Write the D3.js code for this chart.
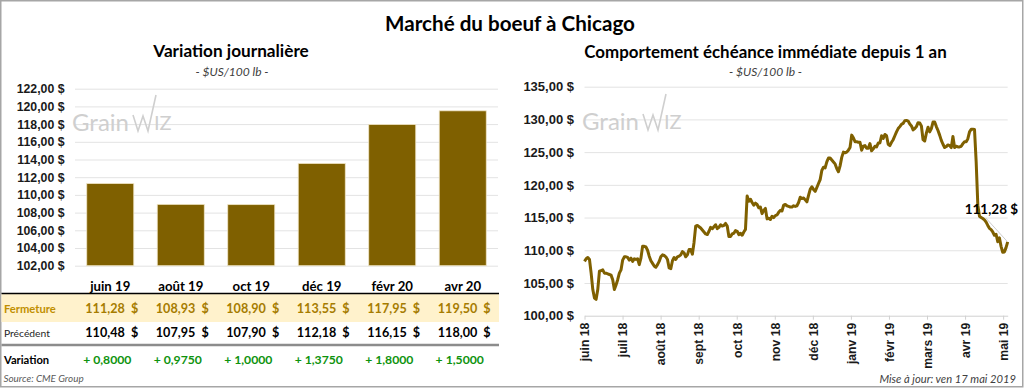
<!DOCTYPE html>
<html>
<head>
<meta charset="utf-8">
<script src="https://cdn.jsdelivr.net/npm/d3@7/dist/d3.min.js"></script>
<style>
  body { margin: 0; background: #fff; }
  svg { font-family: Lato, "Open Sans", sans-serif; display: block; }
  .pre { white-space: pre; }
</style>
</head>
<body>
<div id="chart"></div>
<script>
// left panel: futures contracts
var contracts = ["juin 19", "août 19", "oct 19", "déc 19", "févr 20", "avr 20"];
var closes = [111.28, 108.93, 108.90, 113.55, 117.95, 119.50];
var previous = [110.48, 107.95, 107.90, 112.18, 116.15, 118.00];
var changes = [0.8, 0.975, 1.0, 1.375, 1.8, 1.5];
var barTicks = [102, 104, 106, 108, 110, 112, 114, 116, 118, 120, 122];

// right panel: nearby contract over one year
var monthLabels = ["juin 18", "juil 18", "août 18", "sept 18", "oct 18", "nov 18",
                   "déc 18", "janv 19", "févr 19", "mars 19", "avr 19", "mai 19"];
var lineTicks = [100, 105, 110, 115, 120, 125, 130, 135];
var nearby = [
  108.3,108.7,108.9,108.6,106.5,104.0,102.7,102.5,104.0,106.8,
  106.9,107.0,106.5,106.5,106.4,106.3,106.2,105.5,104.0,104.7,
  105.5,106.5,107.0,108.5,109.0,109.0,108.9,108.5,108.8,108.3,
  108.7,108.6,108.7,107.8,108.8,110.6,110.6,110.5,110.0,109.1,
  108.4,108.0,107.6,107.4,107.8,108.3,109.0,109.3,109.2,109.0,
  108.6,107.3,107.2,108.4,108.9,108.6,109.0,109.1,109.3,109.8,
  109.6,109.0,109.3,
  110.1,110.1,109.4,111.2,113.7,113.8,113.6,113.4,113.1,112.8,
  112.5,112.4,112.9,113.5,113.3,113.6,113.9,113.3,113.5,113.9,
  113.7,113.8,114.1,113.7,112.1,112.1,112.5,112.6,113.0,112.9,
  112.4,112.6,112.3,112.8,113.2,118.3,117.5,117.8,117.3,116.9,
  117.2,117.0,116.5,116.6,115.6,116.1,116.4,114.8,114.9,114.7,
  115.2,115.0,115.3,115.4,115.8,116.1,116.0,116.9,117.0,116.8,
  116.7,116.6,116.6,116.8,
  116.7,116.8,117.3,118.1,117.9,118.0,117.7,117.4,118.4,119.3,
  119.7,119.3,119.0,119.6,120.2,120.8,122.2,122.7,122.6,123.5,
  124.1,124.1,123.8,123.5,123.2,122.5,122.0,122.9,124.2,125.0,
  124.9,125.0,125.3,125.7,127.6,127.2,126.6,126.6,126.5,126.5,
  125.3,125.9,126.0,125.6,125.6,126.3,125.2,125.5,125.9,125.8,
  126.4,126.4,127.5,127.1,127.7,127.5,126.2,126.0,126.5,126.9,
  127.5,128.1,128.6,
  128.9,129.25,129.4,129.8,129.85,129.75,129.3,129.0,128.4,128.6,
  128.9,129.5,129.45,129.0,126.9,126.7,127.9,128.8,128.1,128.6,
  129.6,129.6,128.9,128.3,127.6,126.8,126.2,125.7,125.85,126.1,
  126.0,125.7,127.4,125.7,125.9,125.8,125.8,125.9,126.3,126.6,
  126.6,127.05,128.1,128.5,128.5,128.45,123.5,116.9,115.2,115.0,
  114.85,114.65,114.3,113.8,113.35,113.15,112.8,112.3,112.45,111.3,
  111.9,110.6,109.7,109.75,110.4,111.28
];
var spanMonths = 11.12; // last point sits a bit after the "mai 19" tick

var brown = "#7F6000";
var fr = d3.formatLocale({decimal: ",", thousands: " ", grouping: [3], currency: ["", " $"]});
var f2 = fr.format(".2f"), f4 = fr.format(".4f");

var svg = d3.select("#chart").append("svg")
    .attr("width", 1024)
    .attr("height", 388);

// outer frame
svg.append("rect")
    .attr("x", 0.75).attr("y", 0.75)
    .attr("width", 1022).attr("height", 386)
    .attr("fill", "#fff")
    .attr("stroke", "#a6a6a6")
    .attr("stroke-width", 1.5);

svg.append("text")
    .attr("x", 510).attr("y", 31)
    .attr("text-anchor", "middle")
    .style("font-size", "20.6px").style("font-weight", "bold")
    .text("Marché du boeuf à Chicago");

// watermark "grainWiz"
function watermark(x0, base) {
  var g = svg.append("g").attr("transform", "translate(" + x0 + "," + base + ")");
  g.append("text").attr("x", 0).attr("y", 0)
      .style("font-size", "24px").attr("fill", "#cfcfcf")
      .text("Grain");
  g.append("path")
      .attr("d", "M61,-16 L66,0 L71,-15 L76,0 L84,-36")
      .attr("fill", "none").attr("stroke", "#cfcfcf").attr("stroke-width", 1.6);
  g.append("text").attr("x", 82).attr("y", -1)
      .style("font-size", "20px").attr("fill", "#cfcfcf")
      .text("IZ");
}

/* ---------------- left panel ---------------- */
svg.append("text")
    .attr("x", 231).attr("y", 57)
    .attr("text-anchor", "middle")
    .style("font-size", "17.2px").style("font-weight", "bold")
    .text("Variation journalière");
svg.append("text")
    .attr("x", 232).attr("y", 76)
    .attr("text-anchor", "middle")
    .style("font-size", "12px").style("font-style", "italic").attr("fill", "#404040")
    .text("- $US/100 lb -");

var xb = d3.scaleBand()
    .domain(contracts)
    .range([75, 498])
    .paddingInner(0.333)
    .paddingOuter(0.1667);

var yb = d3.scaleLinear()
    .domain([102, 122])
    .range([265.7, 88.7]);

var yAxisL = svg.append("g")
    .attr("transform", "translate(75,0)")
    .call(d3.axisLeft(yb).tickValues(barTicks).tickSize(-423).tickPadding(10.5)
      .tickFormat(function(d) { return f2(d) + " $"; }));
yAxisL.select(".domain").remove();
yAxisL.selectAll("line").attr("stroke", "#e3e3e3");
yAxisL.selectAll("text").style("font-size", "12.3px").style("font-weight", "bold").attr("fill", "#1a1a1a");

watermark(72, 131);

svg.append("g").selectAll("rect")
  .data(contracts)
  .enter()
  .append("rect")
    .attr("x", function(d) { return xb(d); })
    .attr("width", xb.bandwidth())
    .attr("y", function(d, i) { return yb(closes[i]); })
    .attr("height", function(d, i) { return yb(102) - yb(closes[i]); })
    .attr("fill", brown)
    .attr("stroke", "#efe4c4")
    .attr("stroke-width", 0.8);

// table under the bars
var cx = function(d) { return xb(d) + xb.bandwidth() / 2; };

svg.append("rect")
    .attr("x", 1.5).attr("y", 294)
    .attr("width", 497.5).attr("height", 28)
    .attr("fill", "#FFF2CC");

svg.append("line")
    .attr("x1", 1.5).attr("x2", 499)
    .attr("y1", 293.5).attr("y2", 293.5)
    .attr("stroke", "#000").attr("stroke-width", 1.5);

svg.append("line")
    .attr("x1", 1.5).attr("x2", 499)
    .attr("y1", 345).attr("y2", 345)
    .attr("stroke", "#8c8c8c").attr("stroke-width", 2.5);

svg.append("g").selectAll("text")
  .data(contracts)
  .enter()
  .append("text")
    .attr("x", cx)
    .attr("y", 291)
    .attr("text-anchor", "middle")
    .style("font-size", "13.2px").style("font-weight", "bold")
    .text(function(d) { return d; });

function row(label, y, labelStyle, values, fmt, color, shift, size) {
  var t = svg.append("text")
      .attr("x", 4).attr("y", y)
      .text(label);
  labelStyle(t);
  svg.append("g").selectAll("text")
    .data(values)
    .enter()
    .append("text")
      .attr("class", "pre")
      .attr("x", function(d, i) { return cx(contracts[i]) + shift; })
      .attr("y", y)
      .attr("text-anchor", "middle")
      .style("font-size", size).style("font-weight", "bold")
      .attr("fill", color)
      .text(fmt);
}

row("Fermeture", 312.5, function(t) {
  t.style("font-size", "11.2px").style("font-weight", "bold").attr("fill", "#BF8F00");
}, closes, function(d) { return f2(d) + "  $"; }, "#A67C00", 1.5, "12.6px");

row("Précédent", 337, function(t) {
  t.style("font-size", "10.3px").attr("fill", "#262626");
}, previous, function(d) { return f2(d) + "  $"; }, "#000", 1.5, "12.6px");

row("Variation", 363.5, function(t) {
  t.style("font-size", "11.2px").style("font-weight", "bold").attr("fill", "#000");
}, changes, function(d) { return "+ " + f4(d); }, "#0E930E", -3, "12.2px");

svg.append("text")
    .attr("x", 3.5).attr("y", 382)
    .style("font-size", "9.9px").style("font-style", "italic").attr("fill", "#595959")
    .text("Source: CME Group");

/* ---------------- right panel ---------------- */
svg.append("text")
    .attr("x", 765.5).attr("y", 58)
    .attr("text-anchor", "middle")
    .style("font-size", "16.9px").style("font-weight", "bold")
    .text("Comportement échéance immédiate depuis 1 an");
svg.append("text")
    .attr("x", 765.5).attr("y", 76)
    .attr("text-anchor", "middle")
    .style("font-size", "12px").style("font-style", "italic").attr("fill", "#404040")
    .text("- $US/100 lb -");

var x = d3.scaleLinear()
    .domain([0, spanMonths])
    .range([584.5, 1007.7]);

var y = d3.scaleLinear()
    .domain([100, 135])
    .range([315.7, 86.7]);

var yAxisR = svg.append("g")
    .attr("transform", "translate(584.5,0)")
    .call(d3.axisLeft(y).tickValues(lineTicks).tickSize(-423.2).tickPadding(10.5)
      .tickFormat(function(d) { return f2(d) + " $"; }));
yAxisR.select(".domain").remove();
yAxisR.selectAll("line").attr("stroke", function(d) { return d === 100 ? "none" : "#e3e3e3"; });
yAxisR.selectAll("text").style("font-size", "13px").style("font-weight", "bold").attr("fill", "#1a1a1a");

watermark(582, 130);

var xAxisR = svg.append("g")
    .attr("transform", "translate(0,315.7)")
    .call(d3.axisBottom(x).tickValues(d3.range(monthLabels.length)).tickSize(4).tickSizeOuter(0)
      .tickFormat(function(d) { return monthLabels[d]; }));
xAxisR.select(".domain").attr("stroke", "#d0d0d0");
xAxisR.selectAll("line").attr("stroke", "#d0d0d0");
xAxisR.selectAll("text")
    .attr("transform", "rotate(-90)")
    .attr("x", -7).attr("y", 0).attr("dy", "0.35em")
    .style("text-anchor", "end")
    .style("font-size", "12.2px").style("font-weight", "bold").attr("fill", "#1a1a1a");

var step = spanMonths / (nearby.length - 1);
svg.append("path")
    .datum(nearby)
    .attr("d", d3.line()
      .x(function(d, i) { return x(i * step); })
      .y(function(d) { return y(d); }))
    .attr("fill", "none")
    .attr("stroke", brown)
    .attr("stroke-width", 3)
    .attr("stroke-linejoin", "round");

// label on the last close
var last = nearby[nearby.length - 1];
var lx = x(spanMonths), ly = y(last);
svg.append("line")
    .attr("x1", lx - 22).attr("y1", ly - 24)
    .attr("x2", lx - 1).attr("y2", ly - 1)
    .attr("stroke", "#bfbfbf").attr("stroke-width", 0.8);
svg.append("text")
    .attr("x", lx - 43).attr("y", ly - 28)
    .style("font-size", "13.5px").style("font-weight", "bold")
    .text(f2(last) + " $");

svg.append("text")
    .attr("x", 1016).attr("y", 383)
    .attr("text-anchor", "end")
    .style("font-size", "11.2px").style("font-style", "italic").attr("fill", "#404040")
    .text("Mise à jour: ven 17 mai 2019");
</script>
</body>
</html>
